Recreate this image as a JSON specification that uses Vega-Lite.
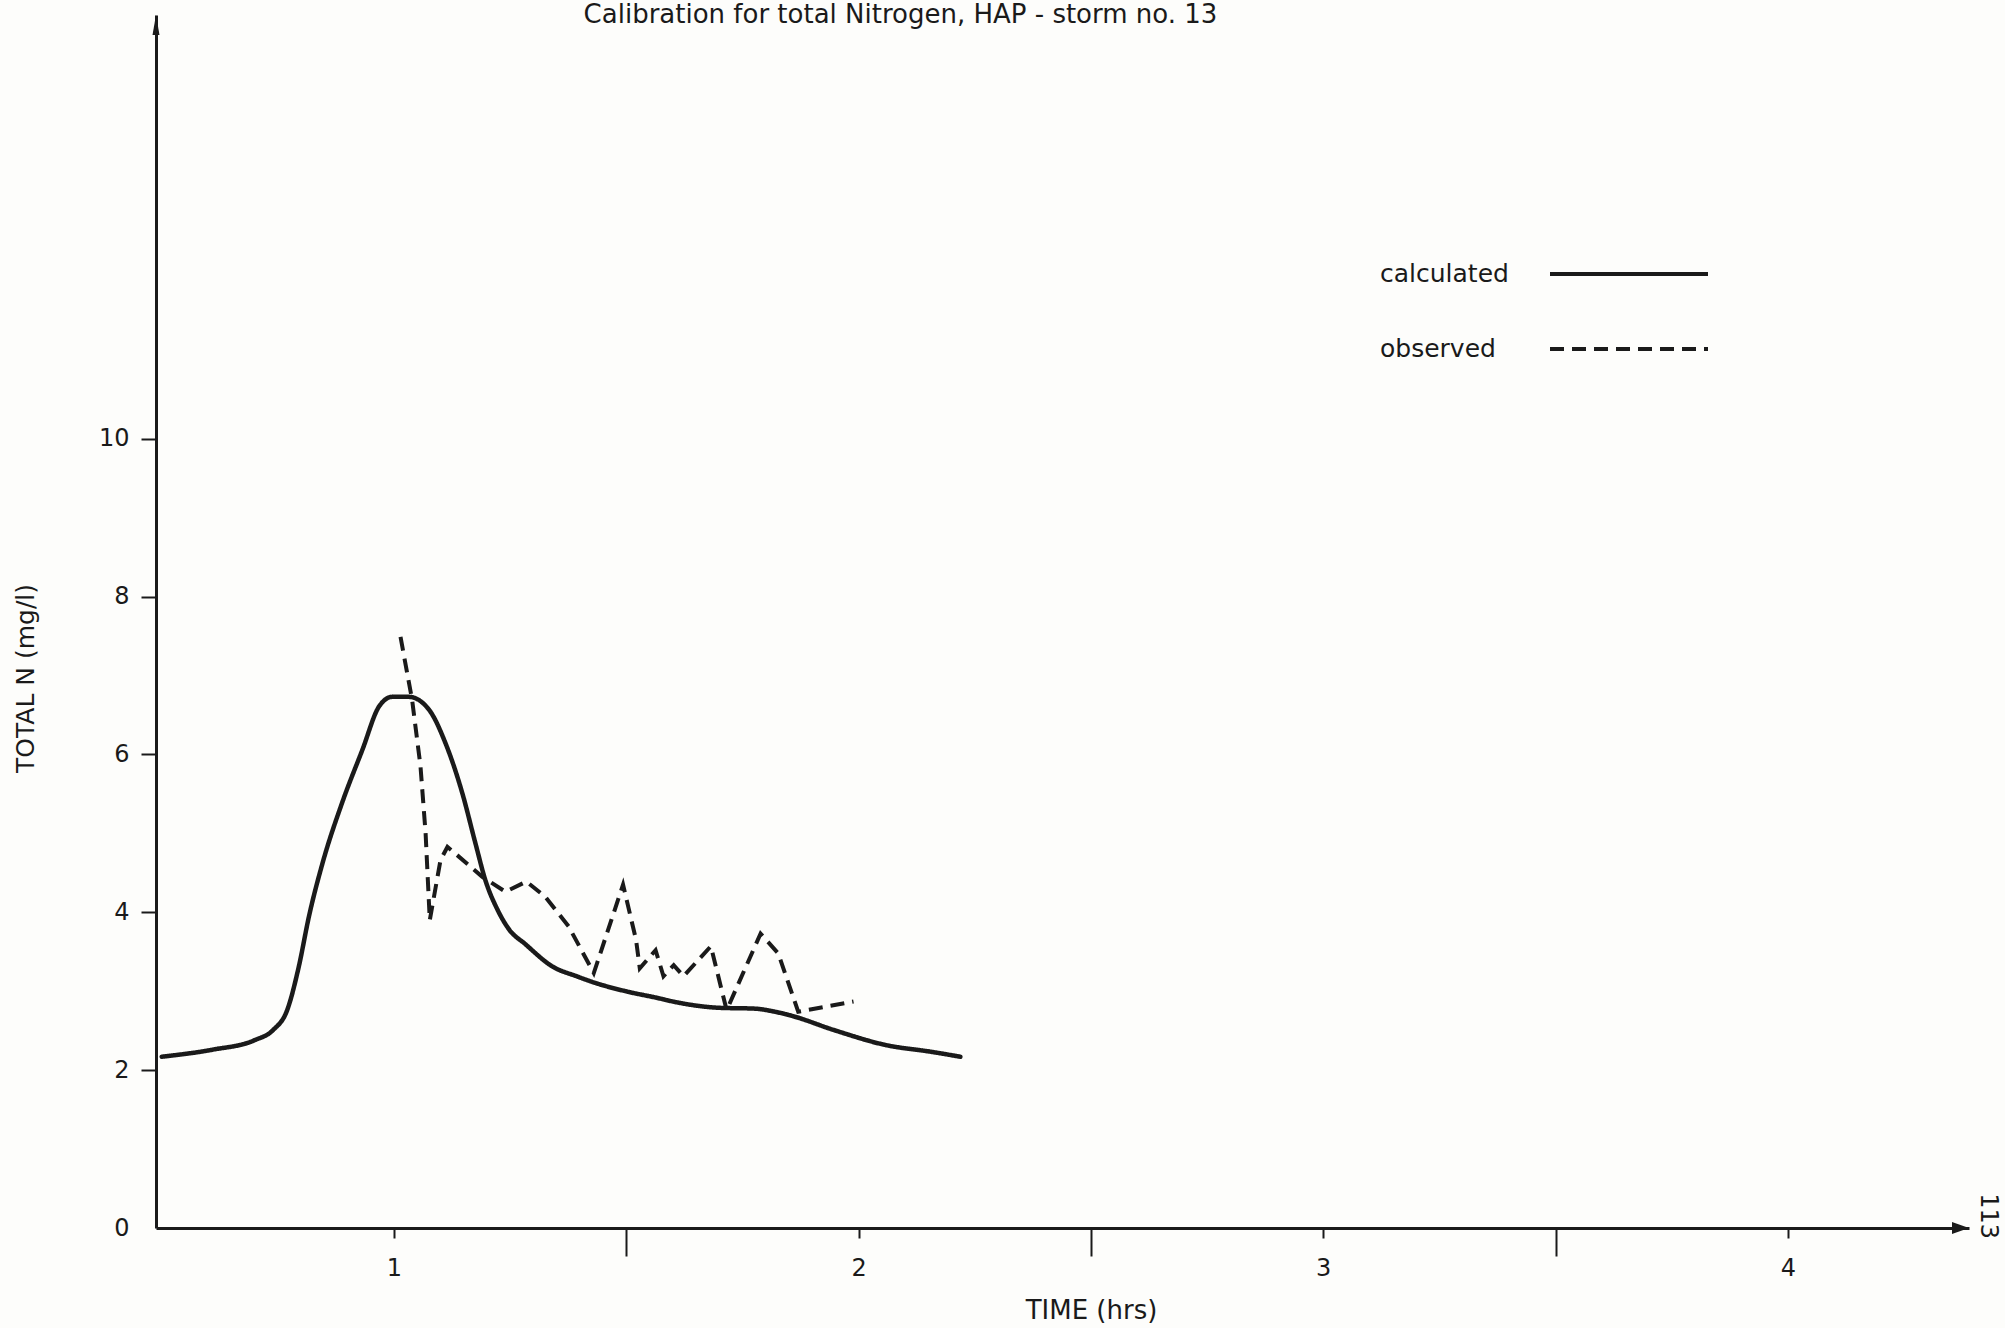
{
  "$schema": "https://vega.github.io/schema/vega-lite/v6.json",
  "autosize": "none",
  "width": 1813,
  "height": 1213,
  "padding": {"left": 156, "top": 15, "right": 36, "bottom": 100},
  "background": "#fdfdfb",
  "config": {"font": "DejaVu Sans", "view": {"stroke": null}},
  "title": {
    "text": "Calibration for total Nitrogen, HAP - storm no. 13",
    "fontSize": 26, "fontWeight": "normal", "font": "DejaVu Sans", "color": "#1a1a1a",
    "anchor": "middle", "dx": -162, "baseline": "alphabetic", "offset": -34, "orient": "top"
  },
  "data": {"values": [
    {"series": "calculated", "time": 0.50, "n": 2.17},
    {"series": "calculated", "time": 0.61, "n": 2.26},
    {"series": "calculated", "time": 0.70, "n": 2.38},
    {"series": "calculated", "time": 0.74, "n": 2.51},
    {"series": "calculated", "time": 0.77, "n": 2.76},
    {"series": "calculated", "time": 0.795, "n": 3.31},
    {"series": "calculated", "time": 0.817, "n": 3.95},
    {"series": "calculated", "time": 0.846, "n": 4.62},
    {"series": "calculated", "time": 0.889, "n": 5.40},
    {"series": "calculated", "time": 0.932, "n": 6.06},
    {"series": "calculated", "time": 0.968, "n": 6.61},
    {"series": "calculated", "time": 0.996, "n": 6.73},
    {"series": "calculated", "time": 1.032, "n": 6.73},
    {"series": "calculated", "time": 1.075, "n": 6.57},
    {"series": "calculated", "time": 1.111, "n": 6.14},
    {"series": "calculated", "time": 1.147, "n": 5.51},
    {"series": "calculated", "time": 1.175, "n": 4.88},
    {"series": "calculated", "time": 1.197, "n": 4.40},
    {"series": "calculated", "time": 1.223, "n": 4.03},
    {"series": "calculated", "time": 1.248, "n": 3.78},
    {"series": "calculated", "time": 1.282, "n": 3.60},
    {"series": "calculated", "time": 1.342, "n": 3.31},
    {"series": "calculated", "time": 1.393, "n": 3.19},
    {"series": "calculated", "time": 1.436, "n": 3.10},
    {"series": "calculated", "time": 1.506, "n": 2.99},
    {"series": "calculated", "time": 1.563, "n": 2.92},
    {"series": "calculated", "time": 1.60, "n": 2.87},
    {"series": "calculated", "time": 1.648, "n": 2.82},
    {"series": "calculated", "time": 1.70, "n": 2.79},
    {"series": "calculated", "time": 1.775, "n": 2.78},
    {"series": "calculated", "time": 1.82, "n": 2.74},
    {"series": "calculated", "time": 1.861, "n": 2.68},
    {"series": "calculated", "time": 1.946, "n": 2.51},
    {"series": "calculated", "time": 2.057, "n": 2.32},
    {"series": "calculated", "time": 2.159, "n": 2.23},
    {"series": "calculated", "time": 2.219, "n": 2.17},
    {"series": "observed", "time": 1.014, "n": 7.49},
    {"series": "observed", "time": 1.039, "n": 6.69},
    {"series": "observed", "time": 1.057, "n": 5.85},
    {"series": "observed", "time": 1.068, "n": 5.00},
    {"series": "observed", "time": 1.077, "n": 3.90},
    {"series": "observed", "time": 1.100, "n": 4.66},
    {"series": "observed", "time": 1.115, "n": 4.83},
    {"series": "observed", "time": 1.190, "n": 4.45},
    {"series": "observed", "time": 1.240, "n": 4.26},
    {"series": "observed", "time": 1.285, "n": 4.39},
    {"series": "observed", "time": 1.325, "n": 4.20},
    {"series": "observed", "time": 1.376, "n": 3.82},
    {"series": "observed", "time": 1.430, "n": 3.23},
    {"series": "observed", "time": 1.493, "n": 4.35},
    {"series": "observed", "time": 1.521, "n": 3.65},
    {"series": "observed", "time": 1.529, "n": 3.29},
    {"series": "observed", "time": 1.563, "n": 3.52},
    {"series": "observed", "time": 1.580, "n": 3.19},
    {"series": "observed", "time": 1.602, "n": 3.33},
    {"series": "observed", "time": 1.623, "n": 3.19},
    {"series": "observed", "time": 1.682, "n": 3.57},
    {"series": "observed", "time": 1.716, "n": 2.76},
    {"series": "observed", "time": 1.789, "n": 3.73},
    {"series": "observed", "time": 1.827, "n": 3.48},
    {"series": "observed", "time": 1.870, "n": 2.74},
    {"series": "observed", "time": 1.989, "n": 2.87}
  ]},
  "layer": [
    {
      "transform": [{"filter": "datum.series === 'calculated'"}],
      "mark": {"type": "line", "interpolate": "monotone", "strokeWidth": 4.5, "color": "#1a1a1a", "strokeCap": "round"},
      "encoding": {
        "x": {
          "field": "time", "type": "quantitative",
          "scale": {"domain": [0.4877, 4.39], "nice": false, "zero": false},
          "axis": {
            "values": [1, 1.5, 2, 2.5, 3, 3.5, 4],
            "labelExpr": "datum.value % 1 === 0 ? format(datum.value, 'd') : ''",
            "tickSize": {"condition": {"test": "datum.value % 1 !== 0", "value": 28}, "value": 10},
            "tickWidth": 2, "tickColor": "#1a1a1a",
            "domainColor": "#1a1a1a", "domainWidth": 3,
            "labelFontSize": 24, "labelColor": "#1a1a1a", "labelPadding": 18,
            "labelFlush": false, "labelOverlap": false, "grid": false,
            "title": "TIME (hrs)", "titleFontSize": 26, "titleFontWeight": "normal", "titleColor": "#1a1a1a",
            "titleX": 935, "titleY": 90, "titleBaseline": "alphabetic", "titleAlign": "center"
          }
        },
        "y": {
          "field": "n", "type": "quantitative",
          "scale": {"domain": [0, 15.37], "nice": false},
          "axis": {
            "values": [0, 2, 4, 6, 8, 10], "format": "d",
            "tickSize": 15, "tickWidth": 2, "tickColor": "#1a1a1a",
            "tickOpacity": {"condition": {"test": "datum.value === 0", "value": 0}, "value": 1},
            "domainColor": "#1a1a1a", "domainWidth": 3,
            "labelFontSize": 24, "labelColor": "#1a1a1a", "labelPadding": 12, "grid": false,
            "title": "TOTAL N (mg/l)", "titleFontSize": 25, "titleFontWeight": "normal", "titleColor": "#1a1a1a",
            "titleX": -123, "titleY": 663, "titleAngle": 270, "titleBaseline": "alphabetic", "titleAlign": "center"
          }
        },
        "strokeDash": {
          "field": "series", "type": "nominal",
          "scale": {"domain": ["calculated", "observed"], "range": [[1, 0], [14, 8]]},
          "legend": {
            "title": null, "orient": "none", "legendX": 1224, "legendY": 217, "padding": 0,
            "direction": "vertical",
            "symbolType": "M-1.975,0H1.975", "symbolSize": 6400, "symbolStrokeWidth": 4, "symbolStrokeColor": "#1a1a1a",
            "symbolFillColor": "transparent",
            "rowPadding": 20, "labelOffset": -291, "symbolOffset": 207,
            "labelFontSize": 25, "labelColor": "#1a1a1a", "labelLimit": 400
          }
        }
      }
    },
    {
      "transform": [{"filter": "datum.series === 'observed'"}],
      "mark": {"type": "line", "interpolate": "linear", "strokeWidth": 4, "color": "#1a1a1a"},
      "encoding": {
        "x": {"field": "time", "type": "quantitative"},
        "y": {"field": "n", "type": "quantitative"},
        "strokeDash": {"field": "series", "type": "nominal"}
      }
    },
    {
      "data": {"values": [{}]},
      "mark": {"type": "point", "shape": "M0,0L-0.35,2L0.35,2Z", "filled": true, "size": 400, "color": "#1a1a1a", "opacity": 1, "strokeWidth": 0},
      "encoding": {
        "x": {"datum": 0.4877, "type": "quantitative"},
        "y": {"datum": 15.37, "type": "quantitative"}
      }
    },
    {
      "data": {"values": [{}]},
      "mark": {"type": "point", "shape": "M0,0L-2,-0.7L-2,0.7Z", "filled": true, "size": 289, "color": "#1a1a1a", "opacity": 1, "strokeWidth": 0},
      "encoding": {
        "x": {"datum": 4.39, "type": "quantitative"},
        "y": {"datum": 0, "type": "quantitative"}
      }
    },
    {
      "data": {"values": [{"label": "113"}]},
      "mark": {"type": "text", "angle": 90, "fontSize": 24, "color": "#1a1a1a", "font": "DejaVu Sans"},
      "encoding": {
        "x": {"datum": 4.431, "type": "quantitative"},
        "y": {"datum": 0.15, "type": "quantitative"},
        "text": {"field": "label"}
      }
    }
  ]
}
